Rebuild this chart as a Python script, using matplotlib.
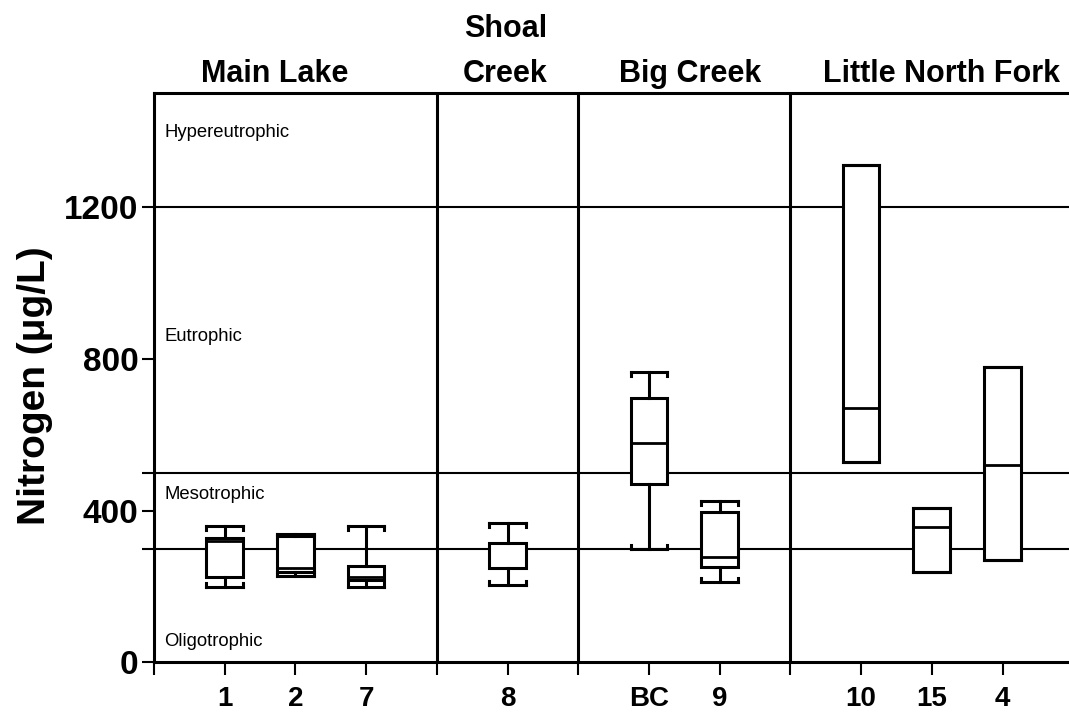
import matplotlib
matplotlib.use('Agg')
import matplotlib.pyplot as plt
from matplotlib.transforms import blended_transform_factory

plt.rcParams['font.family'] = ['Liberation Sans', 'DejaVu Sans']

# sites and their box statistics (ug/L)
sites = ['1', '2', '7', '8', 'BC', '9', '10', '15', '4']
positions = [0, 1, 2, 4, 6, 7, 9, 10, 11]
whisker_low = [199, 227, 199, 204, 300, 212, 528, 239, 269]
q1 = [225, 239, 217, 248, 470, 250, 528, 239, 269]
median = [320, 248, 224, 248, 578, 278, 671, 357, 520]
q3 = [329, 333, 254, 315, 698, 397, 1310, 408, 778]
whisker_high = [359, 339, 359, 368, 765, 426, 1310, 408, 778]

# region groups across the top
groups = ['Main Lake', 'Shoal\nCreek', 'Big Creek', 'Little North Fork']
group_x = [0.71, 3.97, 6.58, 10.14]
dividers = [3, 5, 8]

# trophic state boundaries and labels
trophic_bounds = [300, 500, 1200]
trophic_names = ['Oligotrophic', 'Mesotrophic', 'Eutrophic', 'Hypereutrophic']
trophic_y = [54, 443, 859, 1397]

fig = plt.figure(figsize=(10.69, 7.15), dpi=100)
ax = fig.add_axes([0.144, 0.0737, 0.856, 0.7958])

lw = 2.2
box_w = 0.52

for b in trophic_bounds:
    ax.axhline(b, color='black', lw=1.5, zorder=1)
for d in dividers:
    ax.axvline(d, color='black', lw=lw, zorder=2)

stats = []
for lo, a, m, c, hi in zip(whisker_low, q1, median, q3, whisker_high):
    stats.append(dict(whislo=lo, q1=a, med=m, q3=c, whishi=hi, fliers=[]))

ax.bxp(stats, positions=positions, widths=box_w, capwidths=box_w,
       patch_artist=True, showfliers=False, manage_ticks=False,
       boxprops=dict(facecolor='white', edgecolor='black', linewidth=lw),
       whiskerprops=dict(color='black', linewidth=lw),
       capprops=dict(color='black', linewidth=lw),
       medianprops=dict(color='black', linewidth=2.0),
       zorder=3)

# small hooks at the ends of the whisker caps
hook = 10
for p, lo, a, c, hi in zip(positions, whisker_low, q1, q3, whisker_high):
    for sx in (-box_w / 2, box_w / 2):
        if hi > c:
            ax.plot([p + sx, p + sx], [hi, hi - hook], color='black', lw=lw, zorder=4)
        if lo < a:
            ax.plot([p + sx, p + sx], [lo, lo + hook], color='black', lw=lw, zorder=4)

for name, y in zip(trophic_names, trophic_y):
    ax.text(-0.85, y, name, fontsize=13.3, va='center', ha='left')

ax.set_xlim(-1, 11.94)
ax.set_ylim(0, 1500)
ax.set_xticks(positions)
ax.set_xticklabels(sites, fontsize=20, fontweight='bold')
ax.set_xticks([-1] + dividers, minor=True)
ax.set_yticks([0, 400, 800, 1200])
ax.set_yticklabels(['0', '400', '800', '1200'], fontsize=24, fontweight='bold')
ax.set_yticks(trophic_bounds[:2], minor=True)
ax.tick_params(which='both', direction='out', length=9, width=1.5, color='black')
ax.tick_params(axis='x', pad=8)
ax.tick_params(axis='y', pad=2)

for s in ['top', 'left', 'bottom']:
    ax.spines[s].set_linewidth(lw)
ax.spines['right'].set_visible(False)

trans = blended_transform_factory(ax.transData, fig.transFigure)
for label, gx in zip(groups, group_x):
    lines = label.split('\n')
    for k, line in enumerate(reversed(lines)):
        ax.text(gx, 0.885 + k * 0.063, line, transform=trans, fontsize=22,
                fontweight='bold', ha='center', va='baseline')

fig.text(0.033, 0.46, 'Nitrogen (\u03bcg/L)', rotation=90, fontsize=28,
         fontweight='bold', va='center', ha='center')

fig.savefig('out.png', dpi=100)
